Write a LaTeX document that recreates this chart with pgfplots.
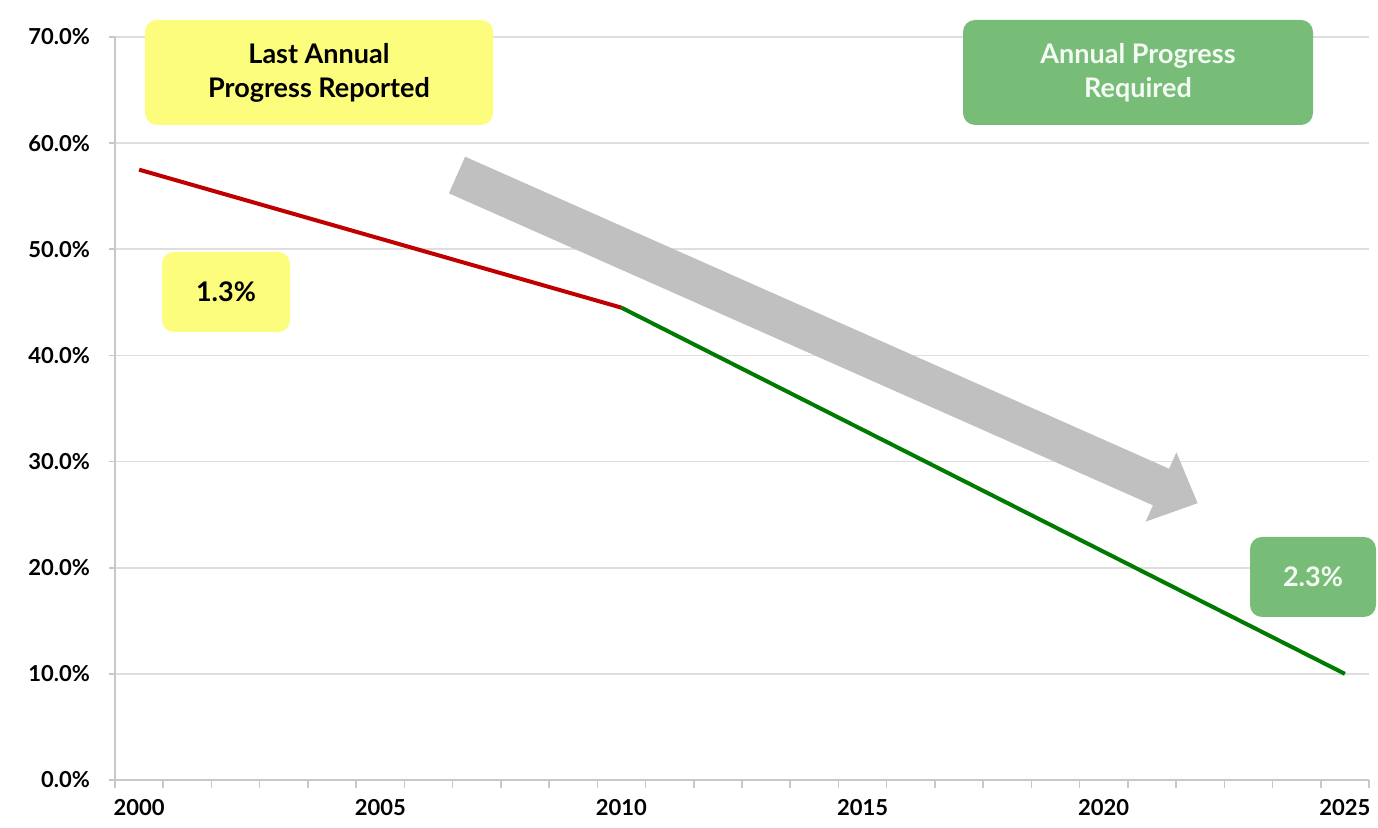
\documentclass[border=0pt]{standalone}
\usepackage{fontspec}
\setmainfont{Lato}
\usepackage{pgfplots}
\pgfplotsset{compat=1.18}
\definecolor{lineRed}{RGB}{192,0,0}
\definecolor{lineGreen}{RGB}{0,122,0}
\definecolor{boxYellow}{RGB}{252,252,125}
\definecolor{boxGreen}{RGB}{119,189,119}
\definecolor{gridGray}{RGB}{222,222,222}
\definecolor{axisGray}{RGB}{200,200,200}
\definecolor{arrowGray}{RGB}{192,192,192}
\begin{document}
\begin{tikzpicture}
\useasboundingbox (0,0) rectangle (689pt,414pt);
\begin{axis}[
  at={(57.5pt,24pt)}, anchor=south west,
  scale only axis, width=627pt, height=371.5pt,
  xmin=1999.5, xmax=2025.5, ymin=0, ymax=70,
  axis lines*=left,
  axis line style={draw=axisGray, line width=1pt},
  xtick={2000,2005,...,2025},
  major x tick style={draw=none},
  minor xtick={1999.5,2000.5,...,2025.5},
  minor tick length=4pt,
  minor x tick style={draw=axisGray, line width=0.8pt},
  tick align=outside,
  ytick={0,10,...,70},
  major tick length=3pt,
  major y tick style={draw=axisGray, line width=0.8pt},
  ymajorgrids,
  grid style={draw=gridGray, line width=0.9pt},
  /pgf/number format/assume math mode=true,
  xticklabel style={font=\bfseries\fontsize{11}{13}\selectfont, yshift=-3pt},
  yticklabel style={font=\bfseries\fontsize{11}{13}\selectfont, xshift=-6pt},
  xticklabel={\pgfmathprintnumber[1000 sep={}]{\tick}},
  yticklabel={\pgfmathprintnumber[fixed,fixed zerofill,precision=1]{\tick}\%},
  clip=false,
]
\addplot[lineRed, line width=2pt] coordinates {
 (2000,57.5) (2001,56.2) (2002,54.9) (2003,53.6) (2004,52.3) (2005,51.0)
 (2006,49.7) (2007,48.4) (2008,47.1) (2009,45.8) (2010,44.5)};
\addplot[lineGreen, line width=2pt] coordinates {
 (2010,44.5) (2011,42.2) (2012,39.9) (2013,37.6) (2014,35.3) (2015,33.0)
 (2016,30.7) (2017,28.4) (2018,26.1) (2019,23.8) (2020,21.5) (2021,19.2)
 (2022,16.9) (2023,14.6) (2024,12.3) (2025,10.0)};
\end{axis}
% gray trend arrow
\fill[arrowGray] (224.45pt,317.35pt) -- (576.45pt,161.35pt) -- (572.8pt,153.15pt)
  -- (598.8pt,162.4pt) -- (588.2pt,187.85pt) -- (584.55pt,179.65pt)
  -- (232.55pt,335.65pt) -- cycle;
% annotation boxes
\node[fill=boxYellow, rounded corners=6pt, minimum width=174pt, minimum height=52.5pt,
  align=center, font=\bfseries\fontsize{13.5}{17}\selectfont, inner sep=0pt]
  at (159.5pt,377.75pt) {Last Annual\\Progress Reported};
\node[fill=boxYellow, rounded corners=6pt, minimum width=64pt, minimum height=40pt,
  font=\bfseries\fontsize{13.5}{17}\selectfont, inner sep=0pt]
  at (113pt,268pt) {1.3\%};
\node[fill=boxGreen, rounded corners=6pt, minimum width=175pt, minimum height=52.5pt,
  align=center, text=white!92!boxGreen, font=\bfseries\fontsize{13.5}{17}\selectfont, inner sep=0pt]
  at (569pt,377.75pt) {Annual Progress\\Required};
\node[fill=boxGreen, rounded corners=6pt, minimum width=63pt, minimum height=40pt,
  text=white!92!boxGreen, font=\bfseries\fontsize{13.5}{17}\selectfont, inner sep=0pt]
  at (656.5pt,125.5pt) {2.3\%};
\end{tikzpicture}
\end{document}
